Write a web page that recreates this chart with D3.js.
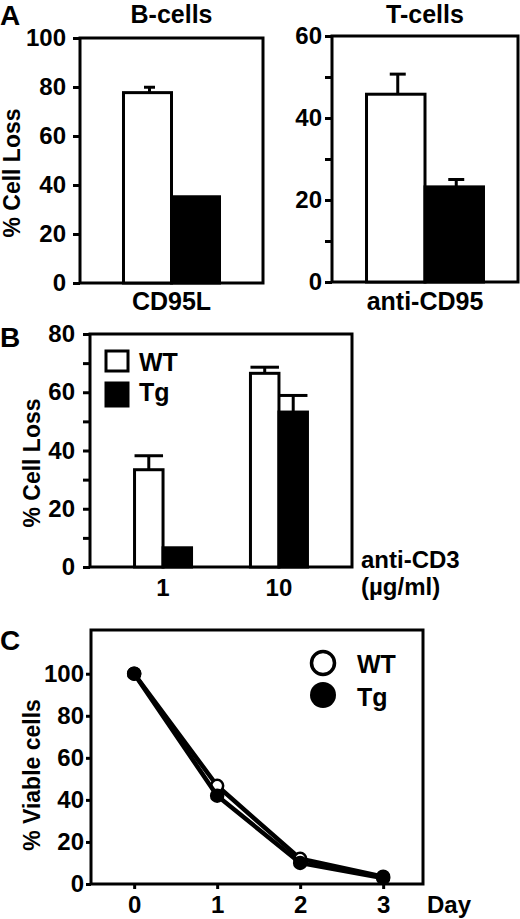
<!DOCTYPE html>
<html>
<head>
<meta charset="utf-8">
<script src="https://cdn.jsdelivr.net/npm/d3@7"></script>
<style>
  body { margin: 0; background: #fff; }
  text { font-family: "Liberation Sans", Arial, sans-serif; font-weight: bold; fill: #000; }
</style>
</head>
<body>
<div id="chart"></div>
<script>
// data
var groupsA = ["WT", "Tg"];
var bCellLoss = [77.7, 35.2];
var bCellErr = [2.2, 0];
var tCellLoss = [45.8, 23.2];
var tCellErr = [4.9, 1.8];

var cd3Doses = ["1", "10"];
var cd3WT = [33.4, 66.5];
var cd3WTErr = [4.8, 2.1];
var cd3Tg = [6.6, 53.2];
var cd3TgErr = [0, 5.7];

var days = [0, 1, 2, 3];
var viableWT = [100, 46.7, 12, 3.5];
var viableTg = [100, 42, 10, 2.8];

var ticksBCells = [0, 20, 40, 60, 80, 100];
var ticksTCells = [0, 10, 20, 30, 40, 50, 60];
var ticksCD3 = [0, 10, 20, 30, 40, 50, 60, 70, 80];
var ticksViable = [0, 20, 40, 60, 80, 100];

var svg = d3.select("#chart").append("svg")
  .attr("width", 520)
  .attr("height", 919);

var fs = 24;

// frame box + left axis with ticks
function drawFrame(x, y, tickVals, labelled, tickLen, pad) {
  var x0 = x.range()[0], x1 = x.range()[1];
  var y0 = y.range()[0], y1 = y.range()[1];
  svg.append("rect")
    .attr("x", x0).attr("y", y1)
    .attr("width", x1 - x0).attr("height", y0 - y1)
    .attr("fill", "none").attr("stroke", "#000").attr("stroke-width", 3);
  var ax = svg.append("g")
    .attr("transform", `translate(${x0},0)`)
    .call(d3.axisLeft(y).tickValues(tickVals).tickSize(tickLen).tickPadding(pad)
      .tickFormat(d => labelled.indexOf(d) >= 0 ? d : ""));
  ax.select(".domain").remove();
  ax.selectAll("line").attr("stroke-width", 3);
  ax.selectAll("text").attr("font-size", fs).attr("font-family", null);
}

function drawErr(cx, top, yTop, capW) {
  svg.append("line")
    .attr("x1", cx).attr("x2", cx).attr("y1", top).attr("y2", yTop)
    .attr("stroke", "#000").attr("stroke-width", 3);
  svg.append("line")
    .attr("x1", cx - capW / 2).attr("x2", cx + capW / 2).attr("y1", yTop).attr("y2", yTop)
    .attr("stroke", "#000").attr("stroke-width", 3);
}

function yLabel(txt, x, y) {
  svg.append("text")
    .attr("transform", `translate(${x},${y}) rotate(-90)`)
    .attr("text-anchor", "middle")
    .attr("font-size", 23)
    .text(txt);
}

function label(txt, x, y, anchor, size) {
  svg.append("text")
    .attr("x", x).attr("y", y)
    .attr("text-anchor", anchor || "middle")
    .attr("font-size", size || fs)
    .text(txt);
}

// ---------- Panel A ----------
function barPanel(values, errs, xRange, yRange, domainMax, ticks, labelled, padOuter, capW, title, xlab, tickPad) {
  var x = d3.scaleBand().domain(groupsA).range(xRange).paddingInner(0).paddingOuter(padOuter);
  var y = d3.scaleLinear().domain([0, domainMax]).range(yRange);
  drawFrame(d3.scaleLinear().range(xRange), y, ticks, labelled, 7, tickPad);

  svg.selectAll(null)
    .data(values)
    .enter()
    .append("rect")
    .attr("x", (d, i) => x(groupsA[i]))
    .attr("y", d => y(d))
    .attr("width", x.bandwidth())
    .attr("height", d => y(0) - y(d))
    .attr("fill", (d, i) => i == 0 ? "#fff" : "#000")
    .attr("stroke", "#000")
    .attr("stroke-width", 3);

  values.forEach(function(v, i) {
    if (errs[i] > 0) drawErr(x(groupsA[i]) + x.bandwidth() / 2 + 2, y(v), y(v + errs[i]), capW);
  });

  var cx = (xRange[0] + xRange[1]) / 2;
  label(title, cx, 23, "middle", 25);
  label(xlab, cx, 310, "middle", 25);
}

barPanel(bCellLoss, bCellErr, [80, 263], [283, 38], 100, ticksBCells, ticksBCells, 0.906, 11,
  "B-cells", "CD95L", 7);
barPanel(tCellLoss, tCellErr, [332, 518], [282, 36], 60, ticksTCells, [0, 20, 40, 60], 0.59, 16,
  "T-cells", "anti-CD95", 3);
yLabel("% Cell Loss", 20, 173);
label("A", 0, 25, "start", 28);

// ---------- Panel B ----------
var xB = d3.scalePoint().domain(cd3Doses).range([90, 352]).padding(0.63);
var yB = d3.scaleLinear().domain([0, 80]).range([567, 334]);
var barW = 28.5;
drawFrame(d3.scaleLinear().range([90, 352]), yB, ticksCD3, [0, 20, 40, 60, 80], 7, 8);

svg.selectAll(null)
  .data(cd3WT)
  .enter()
  .append("rect")
  .attr("x", (d, i) => xB(cd3Doses[i]) - barW)
  .attr("y", d => yB(d))
  .attr("width", barW)
  .attr("height", d => yB(0) - yB(d))
  .attr("fill", "#fff")
  .attr("stroke", "#000")
  .attr("stroke-width", 3);

svg.selectAll(null)
  .data(cd3Tg)
  .enter()
  .append("rect")
  .attr("x", (d, i) => xB(cd3Doses[i]))
  .attr("y", d => yB(d))
  .attr("width", barW)
  .attr("height", d => yB(0) - yB(d))
  .attr("fill", "#000")
  .attr("stroke", "#000")
  .attr("stroke-width", 3);

cd3Doses.forEach(function(d, i) {
  if (cd3WTErr[i] > 0) drawErr(xB(d) - barW / 2, yB(cd3WT[i]), yB(cd3WT[i] + cd3WTErr[i]), barW);
  if (cd3TgErr[i] > 0) drawErr(xB(d) + barW / 2, yB(cd3Tg[i]), yB(cd3Tg[i] + cd3TgErr[i]), barW);
  label(d, xB(d), 596);
});

// legend B
svg.append("rect").attr("x", 106).attr("y", 351).attr("width", 22).attr("height", 20)
  .attr("fill", "#fff").attr("stroke", "#000").attr("stroke-width", 3);
svg.append("rect").attr("x", 106).attr("y", 383).attr("width", 22).attr("height", 23)
  .attr("fill", "#000").attr("stroke", "#000").attr("stroke-width", 3);
label("WT", 139, 371, "start", 25);
label("Tg", 139, 401, "start", 25);

label("anti-CD3", 361, 568, "start");
label("(\u00b5g/ml)", 361, 595, "start");
yLabel("% Cell Loss", 40, 463);
label("B", 0, 347, "start", 28);

// ---------- Panel C ----------
var xC = d3.scaleLinear().domain([-0.52, 3.48]).range([91, 423]);
var yC = d3.scaleLinear().domain([0, 120.8]).range([884, 630]);
drawFrame(xC, yC, ticksViable, ticksViable, 5, 2);

var bx = svg.append("g")
  .attr("transform", `translate(0,${yC(0)})`)
  .call(d3.axisBottom(xC).tickValues(days).tickSize(5).tickPadding(7).tickFormat(d3.format("d")));
bx.select(".domain").remove();
bx.selectAll("line").attr("stroke-width", 3);
bx.selectAll("text").attr("font-size", fs).attr("font-family", null);

var line = d3.line()
  .x((d, i) => xC(days[i]))
  .y(d => yC(d));

[viableWT, viableTg].forEach(function(series, k) {
  svg.append("path")
    .datum(series)
    .attr("d", line)
    .attr("fill", "none")
    .attr("stroke", "#000")
    .attr("stroke-width", 4.5);
  svg.selectAll(null)
    .data(series)
    .enter()
    .append("circle")
    .attr("cx", (d, i) => xC(days[i]))
    .attr("cy", d => yC(d))
    .attr("r", 6)
    .attr("fill", k == 0 ? "#fff" : "#000")
    .attr("stroke", "#000")
    .attr("stroke-width", 2.5);
});

// legend C
svg.append("circle").attr("cx", 323).attr("cy", 663).attr("r", 11.5)
  .attr("fill", "#fff").attr("stroke", "#000").attr("stroke-width", 3.5);
svg.append("circle").attr("cx", 323).attr("cy", 695).attr("r", 13)
  .attr("fill", "#000");
label("WT", 357, 673, "start", 25);
label("Tg", 357, 706, "start", 25);

label("Day", 427, 913, "start");
yLabel("% Viable cells", 40, 775);
label("C", 0, 650, "start", 28);
</script>
</body>
</html>
